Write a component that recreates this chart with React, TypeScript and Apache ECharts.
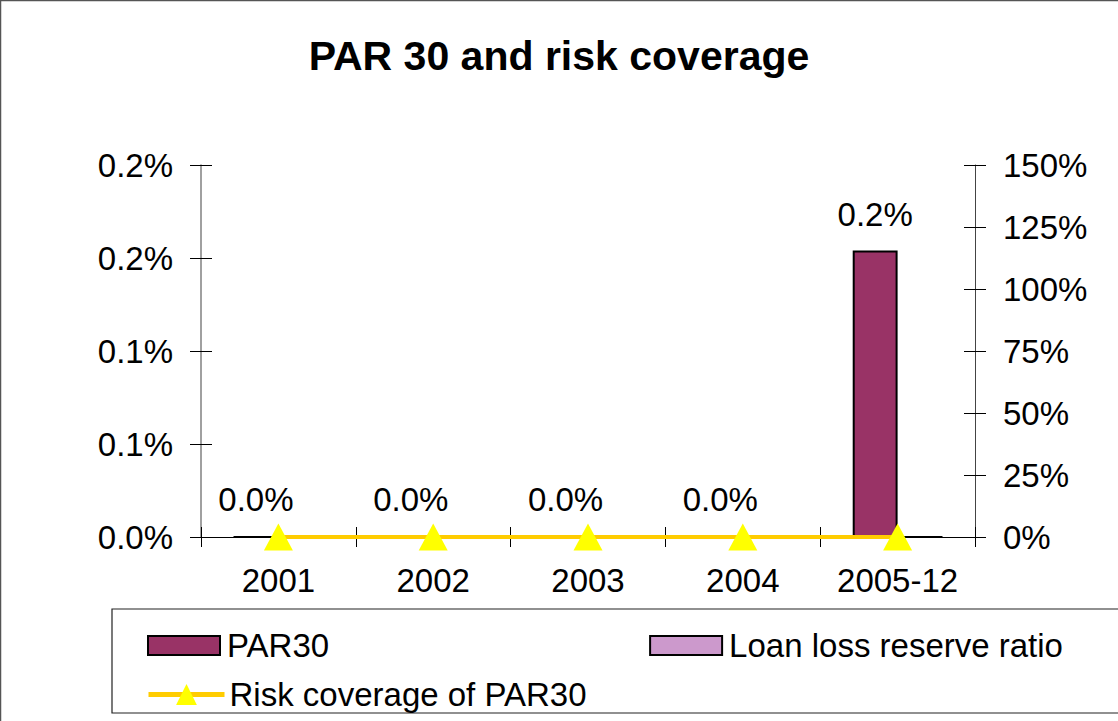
import React, { useEffect, useRef } from "react";
import * as echarts from "echarts";

// Chart data
const categories = ["2001", "2002", "2003", "2004", "2005-12"];
const par30 = [0, 0, 0, 0, 0.154]; // % of portfolio
const loanLossReserveRatio = [0, 0, 0, 0, 0]; // %
const riskCoverage = [0, 0, 0, 0, 0]; // %

const leftMax = 0.2;
const leftInterval = 0.05;
const rightMax = 150;
const rightInterval = 25;

const FONT = "'Liberation Sans', Arial, sans-serif";
const fmt1 = (v: number) => (Math.round(v * 10) / 10).toFixed(1) + "%";

export default function App() {
  const ref = useRef<HTMLDivElement>(null);

  useEffect(() => {
    if (!ref.current) return;
    const chart = echarts.init(ref.current, null, { renderer: "svg" });

    const labelStyle = { color: "#000", fontFamily: FONT, fontSize: 33 };

    chart.setOption({
      animation: false,
      backgroundColor: "#fff",
      title: {
        text: "PAR 30 and risk coverage",
        left: "center",
        top: 30,
        textStyle: { color: "#000", fontFamily: FONT, fontSize: 41, fontWeight: "bold" },
      },
      grid: { left: 201, right: 143, top: 165, bottom: 184 },
      legend: [
        {
          data: [
            { name: "PAR30", icon: "rect" },
            { name: "Loan loss reserve ratio", icon: "rect" },
          ],
          left: 142,
          top: 624,
          itemWidth: 72,
          itemHeight: 19,
          itemGap: 320,
          selectedMode: false,
          textStyle: { ...labelStyle, padding: [0, 0, 0, 2] },
        },
        {
          data: ["Risk coverage of PAR30"],
          left: 141,
          top: 673,
          itemWidth: 76,
          itemHeight: 26,
          selectedMode: false,
          lineStyle: { color: "#FFCC00", width: 5 },
          textStyle: { ...labelStyle, padding: [0, 0, 0, 0] },
        },
      ],
      xAxis: [
        {
          type: "category",
          data: categories,
          position: "bottom",
          axisLine: { lineStyle: { color: "#000", width: 1 } },
          axisTick: { show: true, length: 10, interval: 0, lineStyle: { color: "#000" } },
          axisLabel: { ...labelStyle, margin: 27, interval: 0 },
        },
        {
          type: "category",
          data: categories,
          position: "bottom",
          axisLine: { show: false },
          axisTick: { show: true, inside: true, length: 10, interval: 0, lineStyle: { color: "#000" } },
          axisLabel: { show: false },
        },
      ],
      yAxis: [
        {
          type: "value",
          position: "left",
          min: 0,
          max: leftMax,
          interval: leftInterval,
          splitLine: { show: false },
          axisLine: { show: true, lineStyle: { color: "#808080", width: 1.5 } },
          axisTick: { show: true, length: 11, lineStyle: { color: "#000" } },
          axisLabel: { ...labelStyle, margin: 28, formatter: (v: number) => fmt1(v) },
        },
        {
          type: "value",
          position: "right",
          min: 0,
          max: rightMax,
          interval: rightInterval,
          splitLine: { show: false },
          axisLine: { show: true, lineStyle: { color: "#444", width: 1 } },
          axisTick: { show: true, length: 11, lineStyle: { color: "#000" } },
          axisLabel: { ...labelStyle, margin: 28, formatter: (v: number) => v + "%" },
        },
        {
          type: "value",
          position: "left",
          min: 0,
          max: leftMax,
          interval: leftInterval,
          splitLine: { show: false },
          axisLine: { show: false },
          axisTick: { show: true, inside: true, length: 11, lineStyle: { color: "#000" } },
          axisLabel: { show: false },
        },
        {
          type: "value",
          position: "right",
          min: 0,
          max: rightMax,
          interval: rightInterval,
          splitLine: { show: false },
          axisLine: { show: false },
          axisTick: { show: true, inside: true, length: 11, lineStyle: { color: "#000" } },
          axisLabel: { show: false },
        },
      ],
      series: [
        {
          name: "PAR30",
          type: "bar",
          data: par30,
          yAxisIndex: 0,
          barGap: "0%",
          barCategoryGap: "42%",
          itemStyle: { color: "#993366", borderColor: "#000", borderWidth: 2 },
          label: {
            show: true,
            position: "top",
            distance: 20,
            ...labelStyle,
            formatter: (p: any) => fmt1(p.value),
          },
          z: 2,
        },
        {
          name: "Loan loss reserve ratio",
          type: "bar",
          data: loanLossReserveRatio,
          yAxisIndex: 0,
          itemStyle: { color: "#CC99CC", borderColor: "#000", borderWidth: 2 },
          z: 2,
        },
        {
          name: "Risk coverage of PAR30",
          type: "line",
          data: riskCoverage,
          yAxisIndex: 1,
          symbol: "triangle",
          symbolSize: [29, 27],
          itemStyle: { color: "#FFFF00", borderWidth: 0 },
          lineStyle: { color: "#FFCC00", width: 4 },
          z: 5,
        },
      ],
      graphic: [
        {
          type: "rect",
          shape: { x: 0.5, y: 0.5, width: 1130, height: 740 },
          style: { fill: "none", stroke: "#555", lineWidth: 1.5 },
          silent: true,
        },
        {
          type: "rect",
          shape: { x: 112, y: 609, width: 1020, height: 104 },
          style: { fill: "none", stroke: "#222", lineWidth: 1.2 },
          silent: true,
        },
      ],
    });

    return () => chart.dispose();
  }, []);

  return (
    <div
      ref={ref}
      style={{ position: "fixed", left: 0, top: 0, width: 1118, height: 721 }}
    />
  );
}
